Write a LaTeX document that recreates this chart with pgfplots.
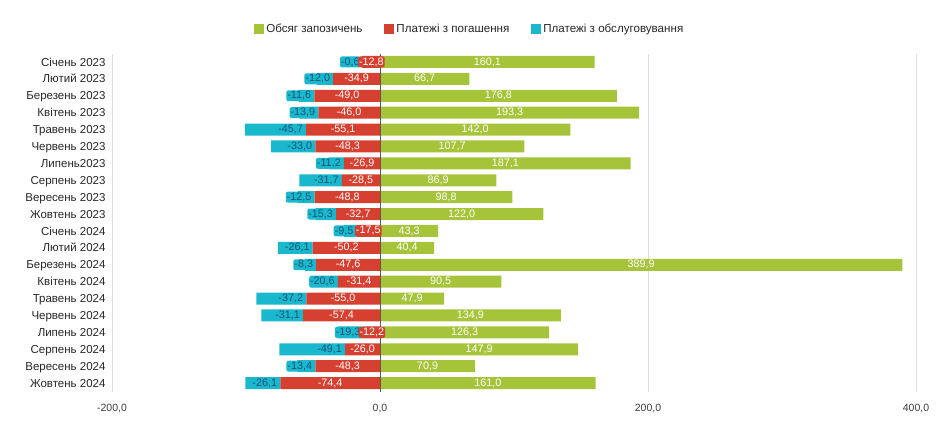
\documentclass[border=0pt]{standalone}
\usepackage{fontspec}
\setmainfont{Liberation Sans}
\usepackage{pgfplots}
\pgfplotsset{compat=1.18}
\usepackage{pgfplotstable}

\definecolor{cgreen}{RGB}{166,196,58}
\definecolor{cred}{RGB}{214,64,48}
\definecolor{ccyan}{RGB}{26,184,204}
\definecolor{cblue}{RGB}{22,82,122}
\definecolor{ctext}{RGB}{60,60,60}

\pgfplotstableread{
idx borrow repay service
0 160.1 -12.8 -0.6
1 66.7 -34.9 -12.0
2 176.8 -49.0 -11.6
3 193.3 -46.0 -13.9
4 142.0 -55.1 -45.7
5 107.7 -48.3 -33.0
6 187.1 -26.9 -11.2
7 86.9 -28.5 -31.7
8 98.8 -48.8 -12.5
9 122.0 -32.7 -15.3
10 43.3 -17.5 -9.5
11 40.4 -50.2 -26.1
12 389.9 -47.6 -8.3
13 90.5 -31.4 -20.6
14 47.9 -55.0 -37.2
15 134.9 -57.4 -31.1
16 126.3 -12.2 -19.3
17 147.9 -26.0 -49.1
18 70.9 -48.3 -13.4
19 161.0 -74.4 -26.1
}\data

\pgfplotsset{
  common/.style={
    at={(112pt,50.5pt)}, anchor=south west,
    scale only axis, width=804pt, height=338pt,
    xmin=-200, xmax=400, ymin=-0.5, ymax=19.5, y dir=reverse,
    bar width=12pt,
  },
  lbl/.style={
    nodes near coords={\pgfmathprintnumber[fixed,fixed zerofill,precision=1,use comma,assume math mode=true]{\pgfplotspointmeta}},
  },
}

\begin{document}
\begin{tikzpicture}
\useasboundingbox (0,0) rectangle (948pt,442pt);
\begin{axis}[
  common,
  xbar,
  axis line style={draw=none},
  major tick length=0pt,
  xmajorgrids,
  grid style={color=black!13, line width=0.6pt},
  xtick={-200,0,200,400},
  xticklabel style={font=\fontsize{10.5}{12}\selectfont, text=ctext, yshift=-9pt},
  /pgf/number format/.cd, fixed, fixed zerofill, precision=1, use comma, assume math mode=true,
  /pgfplots/.cd,
  ytick={0,...,19},
  yticklabels={Січень 2023, Лютий 2023, Березень 2023, Квітень 2023, Травень 2023, Червень 2023, Липень2023, Серпень 2023, Вересень 2023, Жовтень 2023, Січень 2024, Лютий 2024, Березень 2024, Квітень 2024, Травень 2024, Червень 2024, Липень 2024, Серпень 2024, Вересень 2024, Жовтень 2024},
  yticklabel style={font=\fontsize{11.5}{12}\selectfont, text=black!85, xshift=-3pt,
    text height=8.2pt, text depth=0pt},
  legend columns=3,
  legend style={at={(0.445,1)}, anchor=south, yshift=15pt, draw=none, fill=none,
    font=\fontsize{11.6}{12}\selectfont, text=black!85,
    /tikz/every even column/.append style={column sep=20pt}},
  legend image code/.code={\fill[#1] (0pt,-4.8pt) rectangle (10pt,5.2pt);},
]
\addplot[fill=cgreen, draw=none, lbl,
  point meta=\thisrow{borrow},
  visualization depends on={\thisrow{borrow}\as\rawx},
  every node near coord/.append style={anchor=center, text=white,
    font=\fontsize{10.8}{12}\selectfont, xshift={-0.67*(\rawx)*1pt}}]
  table[x=borrow, y=idx]{\data};
\addlegendentry{Обсяг запозичень}
\addlegendimage{fill=cred, draw=none}
\addlegendentry{Платежі з погашення}
\addlegendimage{fill=ccyan, draw=none}
\addlegendentry{Платежі з обслуговування}
\end{axis}

\begin{axis}[
  common,
  xbar stacked,
  hide axis,
]
\addplot[fill=cred, draw=none, lbl,
  point meta=\thisrow{repay},
  every node near coord/.append style={anchor=center, text=white, fill=cred,
    inner sep=1pt, rounded corners=2pt,
    font=\fontsize{10.8}{12}\selectfont}]
  table[x=repay, y=idx]{\data};
\addplot[fill=ccyan, draw=none, lbl,
  point meta=\thisrow{service},
  visualization depends on={\thisrow{service}\as\rawx},
  every node near coord/.append style={anchor=east, text=cblue, fill=ccyan,
    inner sep=1pt, rounded corners=2pt,
    font=\fontsize{10.8}{12}\selectfont, xshift={-0.67*(\rawx)*1pt-2pt}}]
  table[x=service, y=idx]{\data};
\draw[black!65, line width=0.7pt] (axis cs:0,-0.5) -- (axis cs:0,19.5);
\end{axis}
\end{tikzpicture}
\end{document}
